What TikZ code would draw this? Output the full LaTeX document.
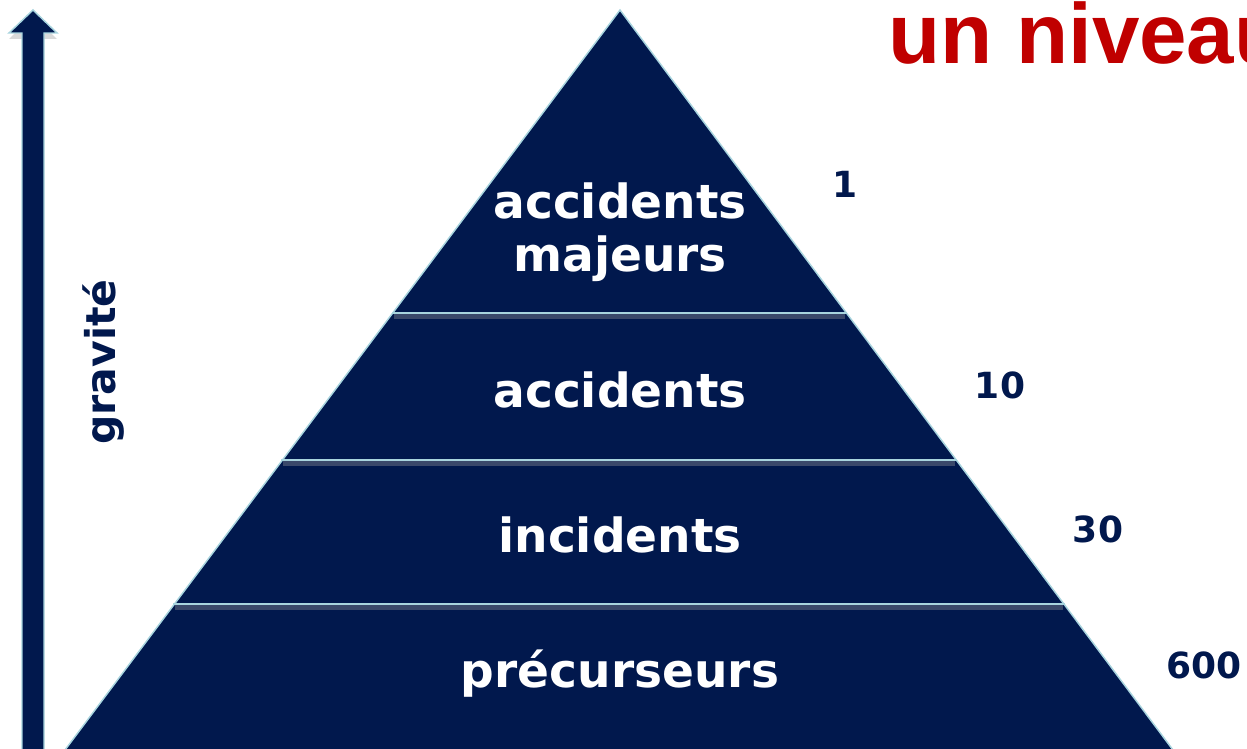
\documentclass[tikz,border=0pt]{standalone}
\usepackage{fontspec}
\setmainfont{DejaVu Sans}
\newfontfamily\titlefont{Liberation Sans}
\usepackage{xcolor}
\usepackage{tikz}
\usetikzlibrary{positioning}

\definecolor{navy}{RGB}{1,24,77}
\definecolor{rim}{RGB}{168,212,222}
\definecolor{seamshade}{RGB}{58,72,106}
\definecolor{titlered}{RGB}{192,0,0}

\begin{document}
\begin{tikzpicture}[
    x=0.75pt, y=-0.75pt,
    level/.style={text=white, font=\fontsize{35.3}{39.75}\selectfont\bfseries, align=center},
    count/.style={text=navy, font=\fontsize{27}{32}\selectfont\bfseries, anchor=base},
    seam/.style={draw=rim, line width=1.5pt},
    solid/.style={fill=navy, draw=rim, line width=1.1pt, line join=miter}
]
    \useasboundingbox (0,0) rectangle (1247,749);
    \clip (0,0) rectangle (1247,749);

    % scale arrow on the left
    \fill[gray!30] (9,39) -- (57,39) -- (33,16) -- cycle;
    \draw[solid] (22,760) -- (22,33) -- (9,33) -- (33,10) -- (57,33) -- (44,33) -- (44,760) -- cycle;
    \node[rotate=90, anchor=base, text=navy, font=\fontsize{30.75}{36}\selectfont\bfseries] (gravite) at (115,362) {gravité};

    % pyramid and its levels
    \coordinate (apex) at (620,10);
    \coordinate (baseL) at (65,750);
    \coordinate (baseR) at (1173,750);
    \draw[solid] (apex) -- (baseR) -- (baseL) -- cycle;

    \foreach \y/\l/\r in {313/392/847, 460/281/957, 604/173/1065} {
        \fill[seamshade] (\l+2,\y+1) rectangle (\r-2,\y+6);
        \draw[seam] (\l,\y) -- (\r,\y);
    }

    \node[level] (majeurs) at (620,232) {accidents\\majeurs};
    \node[level, anchor=base] (accidents) at (620,407) {accidents};
    \node[level, anchor=base] (incidents) at (620,552) {incidents};
    \node[level, anchor=base] (precurseurs) at (620,687) {précurseurs};

    \node[count] (n1) at (845,197) {1};
    \node[count] (n10) at (1000,398) {10};
    \node[count] (n30) at (1098,542) {30};
    \node[count] (n600) at (1204,678) {600};

    \node[anchor=base west, inner sep=0pt, text=titlered, font=\titlefont\fontsize{64}{70}\selectfont\bfseries] (titre) at (888,64) {un niveau};
\end{tikzpicture}
\end{document}
